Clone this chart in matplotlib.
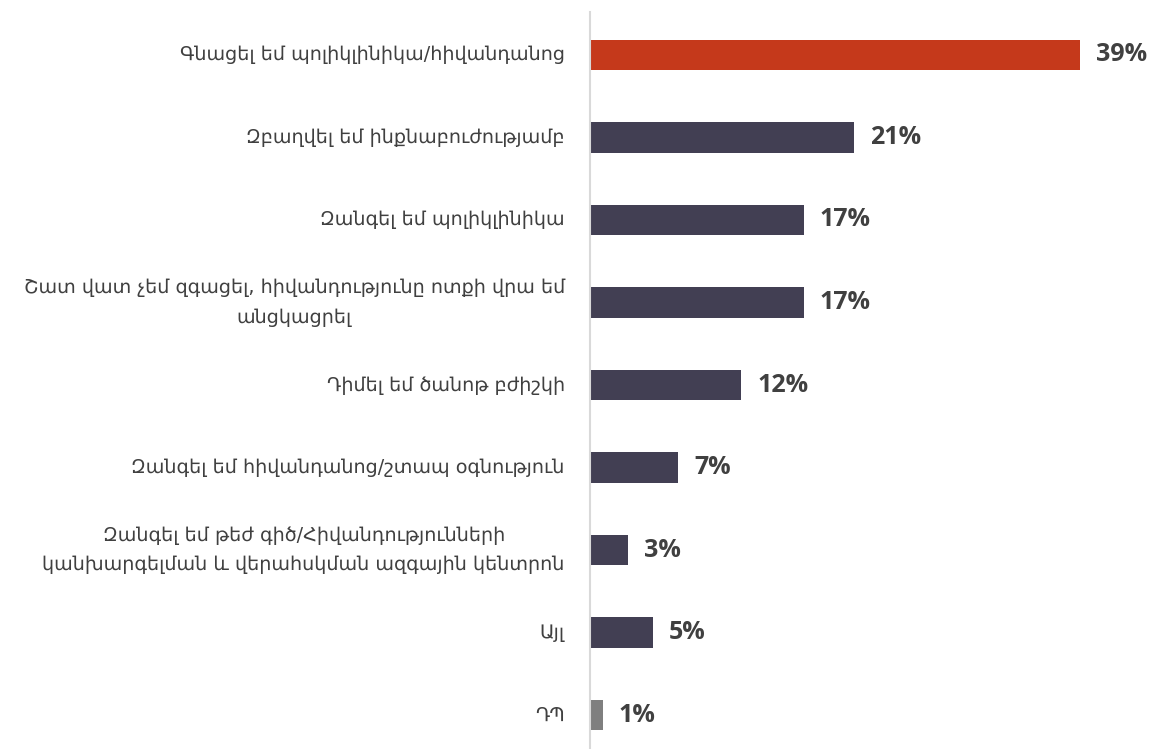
import matplotlib.pyplot as plt

categories = [
    'Գնացել եմ պոլիկլինիկա/հիվանդանոց',
    'Զբաղվել եմ ինքնաբուժությամբ',
    'Զանգել եմ պոլիկլինիկա',
    'Շատ վատ չեմ զգացել, հիվանդությունը ոտքի վրա եմ\nանցկացրել',
    'Դիմել եմ ծանոթ բժիշկի',
    'Զանգել եմ հիվանդանոց/շտապ օգնություն',
    'Զանգել եմ թեժ գիծ/Հիվանդությունների\nկանխարգելման և վերահսկման ազգային կենտրոն',
    'Այլ',
    'ԴՊ',
]
values = [39, 21, 17, 17, 12, 7, 3, 5, 1]
colors = ['#C5391B'] + ['#423F53'] * 7 + ['#7F7F7F']

fig = plt.figure(figsize=(11.53, 7.49), dpi=100)
ax = fig.add_axes([590 / 1153, 0, 1 - 590 / 1153, 1 - 12 / 749])

y = range(len(values))
ax.barh(y, values, height=0.37, color=colors)
ax.set_xlim(0, 44.8)
ax.set_ylim(8.41, -0.52)

for i, v in enumerate(values):
    ax.text(v + 1.3, i, f'{v}%', va='center', ha='left', fontsize=18,
            fontweight='bold', color='#404040', family='Open Sans')
    ax.text(-2.0, i, categories[i], va='center', ha='right', fontsize=13.8,
            color='#404040', multialignment='center', family='DejaVu Sans',
            linespacing=1.7)

for s in ['top', 'right', 'bottom']:
    ax.spines[s].set_visible(False)
ax.spines['left'].set_color('#D9D9D9')
ax.spines['left'].set_linewidth(1.5)
ax.set_xticks([])
ax.set_yticks([])

fig.savefig('out.png', dpi=100)
